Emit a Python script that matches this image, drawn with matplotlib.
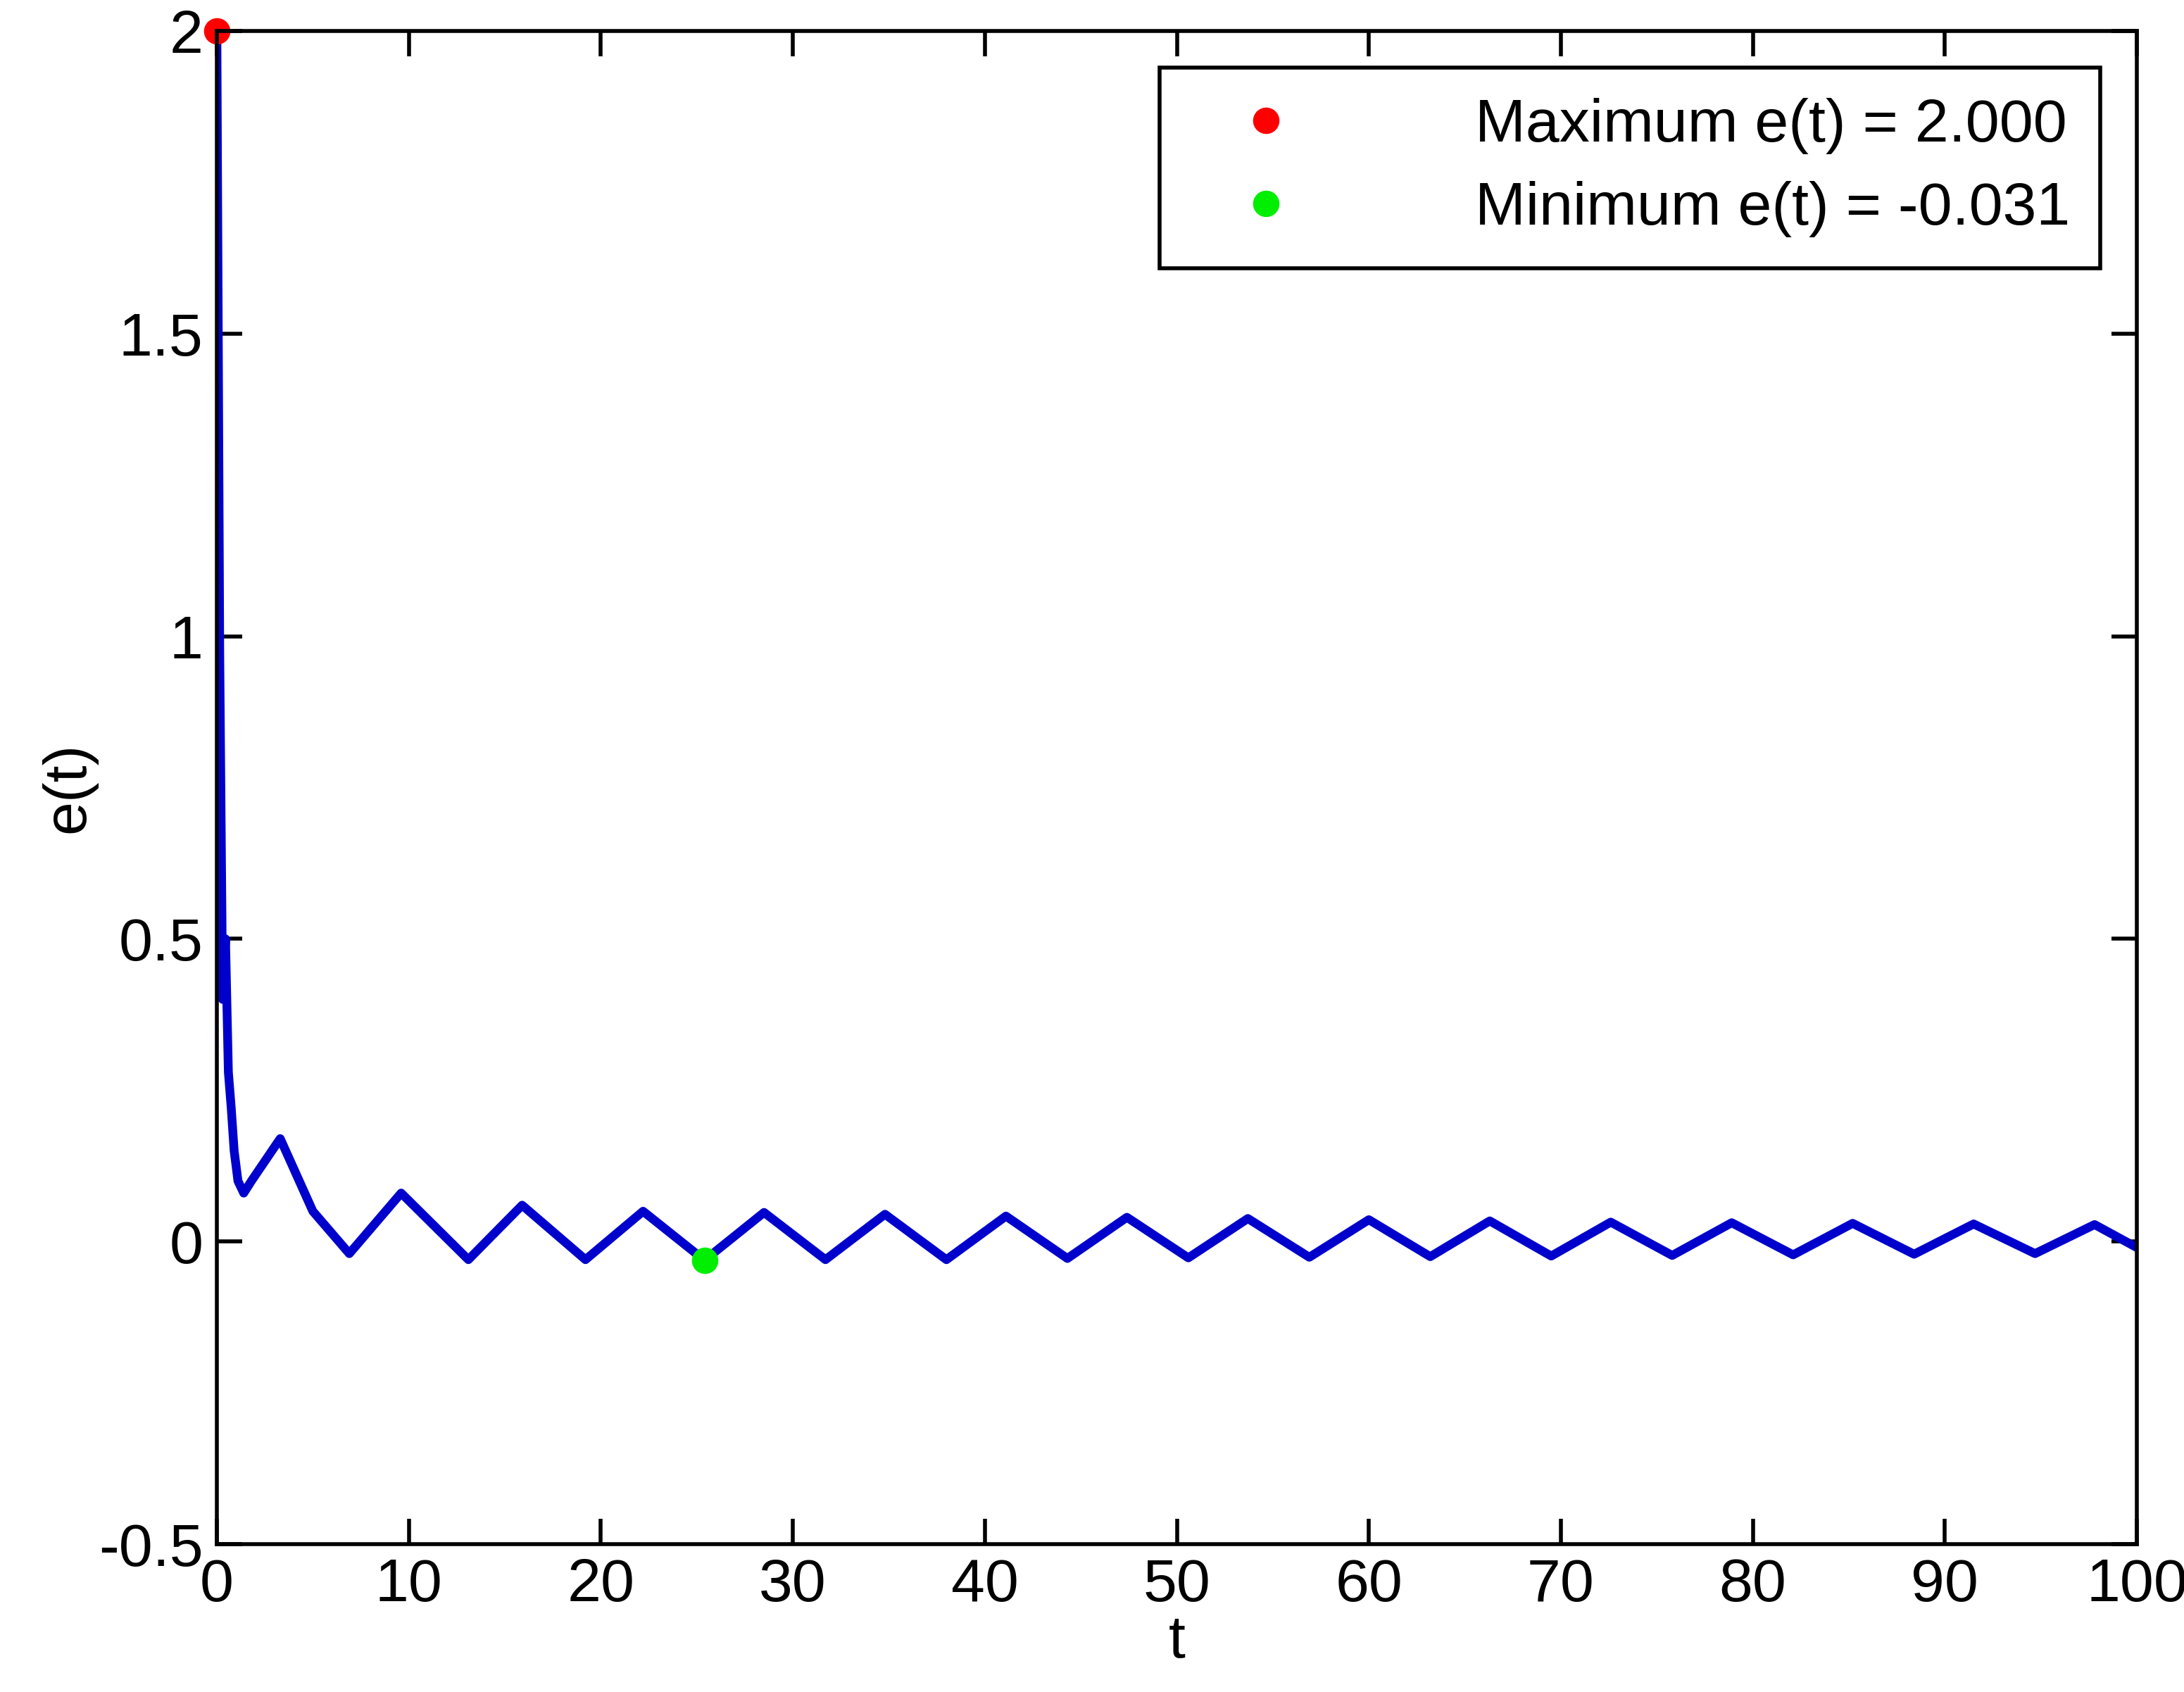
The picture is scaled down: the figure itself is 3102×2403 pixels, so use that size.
import matplotlib
matplotlib.use("Agg")
import matplotlib.pyplot as plt

plt.rcParams['font.family'] = ['Liberation Sans', 'DejaVu Sans']

t_vals = [0, 0.15, 0.3, 0.45, 0.6, 0.75, 0.9, 1.1, 1.4, 1.8, 3.3, 5.0, 6.9,
          9.6, 13.1, 15.9, 19.2, 22.2, 25.4, 28.5, 31.7, 34.8, 38.0, 41.1, 44.3,
          47.4, 50.6, 53.7, 56.9, 60.0, 63.2, 66.3, 69.5, 72.6, 75.8, 78.9, 82.1,
          85.2, 88.4, 91.5, 94.7, 97.8, 100]
e_vals = [2.0, 0.97, 0.40, 0.50, 0.28, 0.22, 0.15, 0.10, 0.08, 0.10, 0.17, 0.05, -0.02,
          0.08, -0.03, 0.06, -0.03, 0.05, -0.031, 0.048, -0.03, 0.045, -0.03, 0.042, -0.028,
          0.04, -0.027, 0.038, -0.026, 0.036, -0.025, 0.034, -0.024, 0.032, -0.023, 0.031, -0.022,
          0.030, -0.021, 0.029, -0.020, 0.028, -0.01]
max_t, max_e = 0.0, 2.0
min_t, min_e = 25.4, -0.031

fig = plt.figure(figsize=(31.02, 24.03), dpi=100)
ax = fig.add_axes([308/3102, 1-2193/2403, (3035-308)/3102, (2193-44)/2403])
ax.plot(t_vals, e_vals, color='#0000cc', lw=9, solid_joinstyle='round')
ax.plot([max_t], [max_e], 'o', color='red', ms=26, label='Maximum e(t) = 2.000', clip_on=False)
ax.plot([min_t], [min_e], 'o', color='#00ee00', ms=26, label='Minimum e(t) = -0.031')
ax.set_xlim(0, 100)
ax.set_ylim(-0.5, 2)
ax.set_xticks(range(0, 101, 10))
ax.set_yticks([-0.5, 0, 0.5, 1, 1.5, 2])
ax.set_yticklabels(['-0.5', '0', '0.5', '1', '1.5', '2'])
ax.tick_params(labelsize=62, direction='in', length=26, width=4, top=True, right=True, pad=14)
for s in ax.spines.values():
    s.set_linewidth(4)
ax.set_xlabel('t', fontsize=62, labelpad=0)
ax.set_ylabel('e(t)', fontsize=62, labelpad=2)
leg = ax.legend(loc='upper right', fontsize=62, fancybox=False, edgecolor='black',
                handletextpad=2.2, borderpad=0.5, labelspacing=0.45, handlelength=2.5,
                borderaxespad=0.6, framealpha=1)
leg.get_frame().set_linewidth(4)
fig.savefig('out.png', dpi=100)
